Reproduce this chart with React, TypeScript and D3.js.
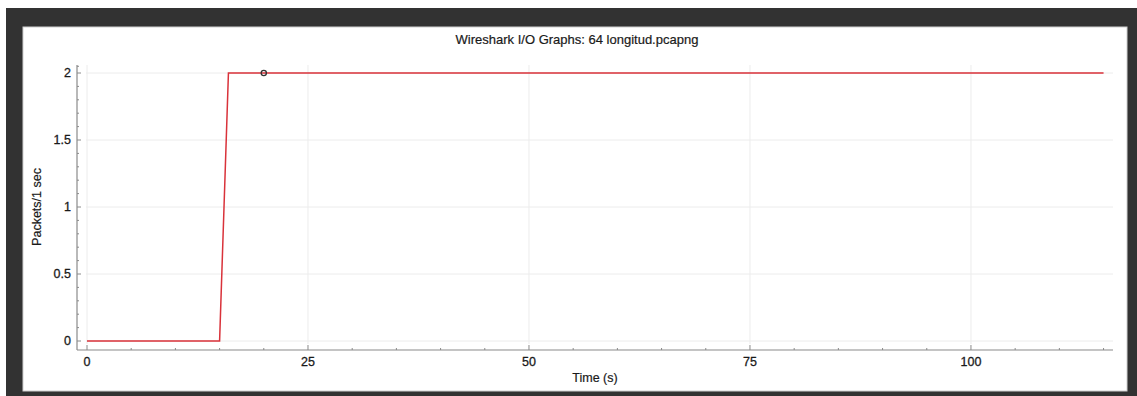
import React from "react";
import * as d3 from "d3";

const title = "Wireshark I/O Graphs: 64 longitud.pcapng";
const xLabel = "Time (s)";
const yLabel = "Packets/1 sec";
// breakpoints of the series (time in s, packets per second)
const times = [0, 15, 16, 115];
const packets = [0, 0, 2, 2];
const markerTime = 20;
const markerValue = 2;
const xMajorTicks = [0, 25, 50, 75, 100];
const xMinorTicks = [5, 10, 15, 20, 30, 35, 40, 45, 55, 60, 65, 70, 80, 85, 90, 95, 105, 110, 115];
const yMajorTicks = [0, 0.5, 1, 1.5, 2];
const yTickLabels = ["0", "0.5", "1", "1.5", "2"];
const yMinorTicks = [0.1, 0.2, 0.3, 0.4, 0.6, 0.7, 0.8, 0.9, 1.1, 1.2, 1.3, 1.4, 1.6, 1.7, 1.8, 1.9, 2.05];

export default function App() {
  const W = 1137, H = 396;
  const x = d3.scaleLinear().domain([0, 116]).range([87, 1112.4]);
  const y = d3.scaleLinear().domain([0, 2]).range([341, 73]);
  const plotTop = 65, plotBottom = 344, plotLeft = 86, plotRight = 1113;
  const axisX = 77, axisY = 350;
  const line = d3.line<number>().x((_, i) => x(times[i])).y((d) => y(d));
  const font = "Helvetica, 'Liberation Sans', Arial, sans-serif";
  const axisColor = "#8a8a8a";
  const gridColor = "#ececec";
  const textColor = "#1a1a1a";
  return (
    <svg width={W} height={H} style={{ position: "absolute", left: 0, top: 0, display: "block" }} fontFamily={font}>
      <rect x={0} y={0} width={W} height={H} fill="#ffffff" />
      <rect x={6} y={8} width={W - 6} height={H - 8} fill="#323232" />
      <rect x={23} y={27} width={1104} height={364} fill="#ffffff" stroke="#cfcfcf" strokeWidth={1} />
      <text x={577} y={44} textAnchor="middle" fontSize={13} fill={textColor} stroke={textColor} strokeWidth={0.2}>{title}</text>
      {/* grid */}
      {xMajorTicks.map((t) => (
        <line key={"gx" + t} x1={x(t)} x2={x(t)} y1={plotTop} y2={plotBottom} stroke={gridColor} strokeWidth={1} />
      ))}
      {yMajorTicks.map((t) => (
        <line key={"gy" + t} x1={plotLeft} x2={plotRight} y1={y(t)} y2={y(t)} stroke={gridColor} strokeWidth={1} />
      ))}
      {/* axes */}
      <line x1={axisX} x2={axisX} y1={plotTop} y2={axisY} stroke={axisColor} strokeWidth={1.2} />
      <line x1={axisX} x2={plotRight} y1={axisY} y2={axisY} stroke={axisColor} strokeWidth={1.2} />
      {yMajorTicks.map((t, i) => (
        <g key={"yt" + t}>
          <line x1={axisX} x2={axisX + 4} y1={y(t)} y2={y(t)} stroke={axisColor} strokeWidth={1} />
          <text x={71} y={y(t)} dy="0.35em" textAnchor="end" fontSize={12.5} fill={textColor} stroke={textColor} strokeWidth={0.3}>{yTickLabels[i]}</text>
        </g>
      ))}
      {yMinorTicks.map((t) => (
        <line key={"ym" + t} x1={axisX} x2={axisX + 2} y1={y(t)} y2={y(t)} stroke={axisColor} strokeWidth={1} />
      ))}
      {xMajorTicks.map((t) => (
        <g key={"xt" + t}>
          <line x1={x(t)} x2={x(t)} y1={axisY} y2={axisY - 5} stroke={axisColor} strokeWidth={1} />
          <text x={x(t)} y={362} dy="0.35em" textAnchor="middle" fontSize={12.5} fill={textColor} stroke={textColor} strokeWidth={0.3}>{t}</text>
        </g>
      ))}
      {xMinorTicks.map((t) => (
        <line key={"xm" + t} x1={x(t)} x2={x(t)} y1={axisY} y2={axisY - 2} stroke={axisColor} strokeWidth={1} />
      ))}
      <text x={595} y={378} dy="0.35em" textAnchor="middle" fontSize={12.5} fill={textColor} stroke={textColor} strokeWidth={0.2}>{xLabel}</text>
      <text transform={`translate(37,207) rotate(-90)`} dy="0.35em" textAnchor="middle" fontSize={12.5} fill={textColor} stroke={textColor} strokeWidth={0.2}>{yLabel}</text>
      {/* series */}
      <path d={line(packets) || ""} fill="none" stroke="#d9323a" strokeWidth={1.5} />
      <circle cx={x(markerTime)} cy={y(markerValue)} r={2.6} fill="none" stroke="#333" strokeWidth={1.3} />
    </svg>
  );
}
